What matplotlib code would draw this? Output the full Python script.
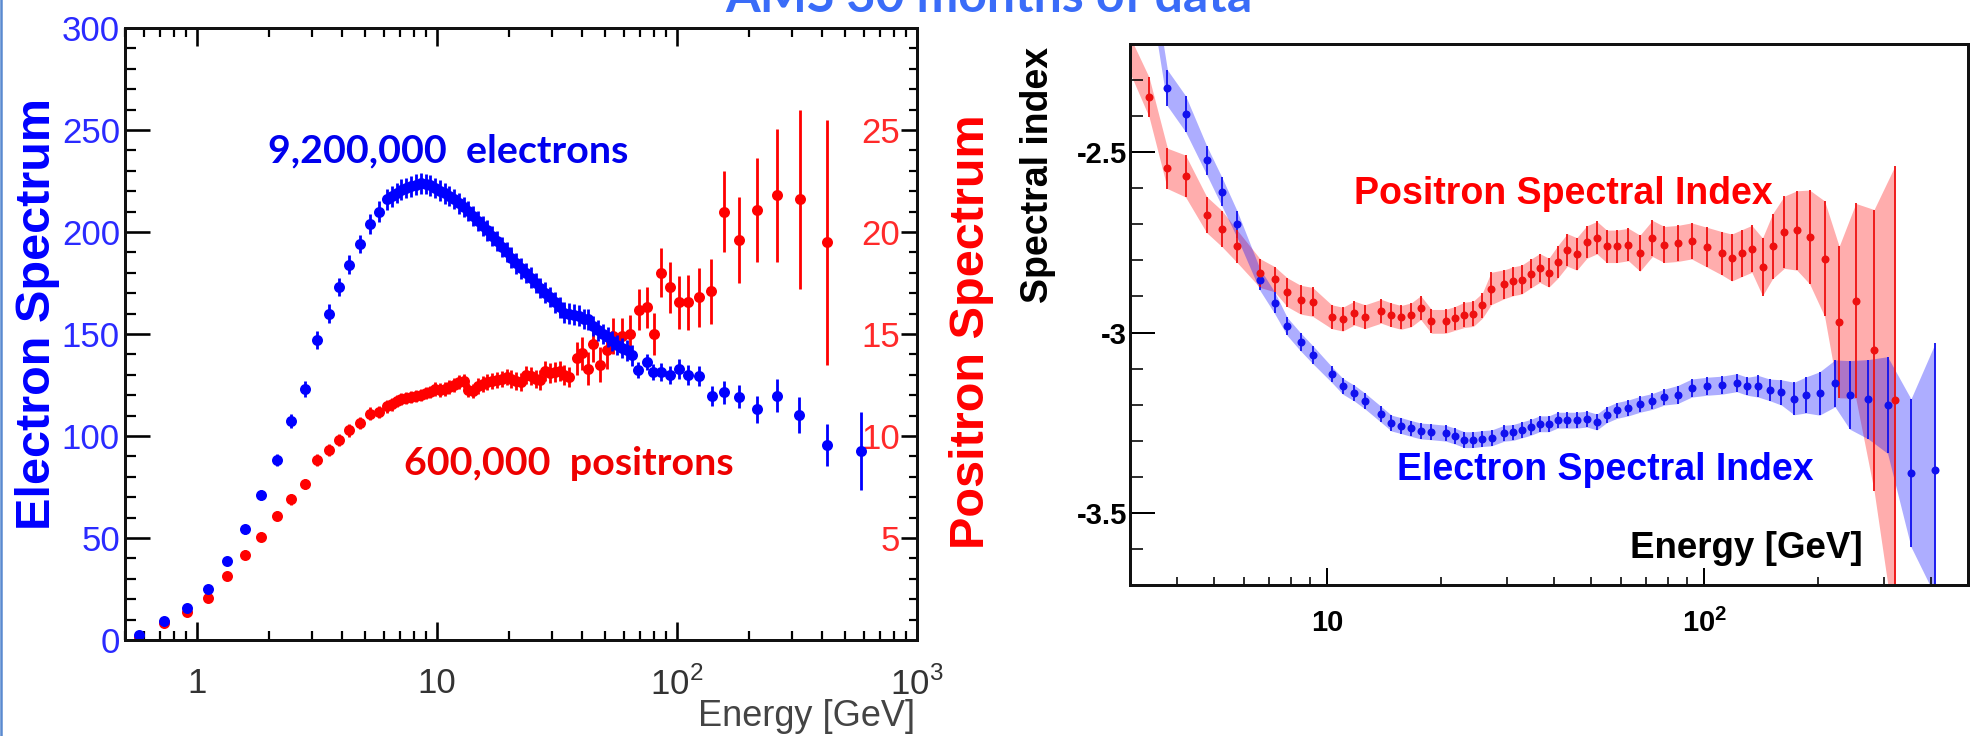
import numpy as np
import matplotlib
matplotlib.use("Agg")
import matplotlib.pyplot as plt
from matplotlib.lines import Line2D
from matplotlib.ticker import FixedLocator, MultipleLocator, NullFormatter

plt.rcParams['mathtext.fontset'] = 'custom'
plt.rcParams['mathtext.rm'] = 'Liberation Sans'
plt.rcParams['mathtext.bf'] = 'Liberation Sans:bold'
plt.rcParams['font.family'] = ['Liberation Sans', 'DejaVu Sans']

# ---------------- data: left panel (spectra) ----------------
ele_E = [0.573, 0.726, 0.908, 1.104, 1.33, 1.58, 1.85, 2.16, 2.46, 2.82, 3.17, 3.53,
         3.89, 4.30, 4.76, 5.24, 5.73, 6.2,
         6.5, 6.8, 7.1, 7.45, 7.8, 8.15, 8.55, 8.95, 9.35, 9.8, 10.25, 10.75, 11.25,
         11.8, 12.35, 12.9, 13.5, 14.15, 14.8, 15.5, 16.2, 17.0, 17.8, 18.6, 19.5,
         20.4, 21.4, 22.4, 23.4, 24.5, 25.7, 26.9, 28.2, 29.5, 30.9, 32.4, 33.9, 35.5,
         37.2, 39.0, 40.8, 42.7, 44.7, 46.8, 49.0, 51.3, 53.8, 56.3, 59.0, 61.8, 64.7,
         69.0, 74.8, 79.7, 86.0, 93.6, 101.8, 111.4, 123.6, 139.3, 157, 181, 215, 260,
         322, 422, 585]
ele_val = [2.5, 9.5, 15.6, 24.9, 38.9, 54.2, 71, 88.3, 107.2, 123, 147, 160,
           173, 184, 194, 204, 210, 216,
           217.5, 219, 220.8, 221.5, 222.4, 223.2, 223.8, 223.5, 222.8, 221.6, 220.3,
           218.9, 217.7, 216.2, 214, 212.2, 210.2, 207.8, 205.3, 203, 200.8, 198, 195.5,
           192.6, 190.2, 187.5, 184.6, 182.2, 180, 177.6, 175, 172.6, 170.3, 168, 165.5,
           163, 160.5, 160, 159.5, 159, 157.5, 157.2, 154, 151.8, 150, 148.5, 146.5,
           144.5, 143, 142, 139.5,
           132.4, 136.4, 131.5, 131.5, 129.9, 132.7, 129.9, 129.4, 119.6, 121.4, 119.3,
           113.1, 119.8, 110.3, 95.6, 92.6]
ele_err = [1, 1, 1, 1, 1.5, 2, 2.5, 3, 3.5, 4, 4.5, 4.5, 4.5, 4.5, 4.5, 5, 5, 5,
           5, 5, 5, 5, 5, 5, 5, 5, 5, 5, 5, 5, 5, 5, 5, 5, 5, 5, 5, 5, 5, 5, 5, 5, 5,
           5, 5, 5, 5, 5, 5, 5, 5, 5, 5, 5, 5, 5, 5, 5, 5, 5, 5, 5, 5, 5, 5, 5, 5, 5, 5,
           4, 4, 4, 4.5, 4.5, 5, 5, 5, 5, 5.5, 5.5, 6.5, 8, 9, 10.5, 19]

pos_E = [0.573, 0.726, 0.908, 1.104, 1.33, 1.58, 1.85, 2.16, 2.46, 2.82, 3.17, 3.53,
         3.89, 4.30, 4.76, 5.24, 5.73,
         6.2, 6.5, 6.8, 7.1, 7.45, 7.8, 8.15, 8.55, 8.95, 9.35, 9.8, 10.25, 10.75,
         11.25, 11.8, 12.35, 12.9, 13.5, 14.15, 14.8, 15.5, 16.2, 17.0, 17.8, 18.6,
         19.5, 20.4, 21.4, 22.4, 23.4, 24.5, 25.7, 26.9, 28.2, 29.5, 30.9, 32.4, 33.9,
         35.5,
         38.1, 40.0, 42.7, 44.8, 47.7, 51.0, 54.3, 58.8, 63.6, 69.1, 74.7, 80.2, 86.1,
         93.5, 101.8, 111.5, 123.7, 139, 157, 181, 215, 260, 324, 422]
pos_val = [0.15, 0.84, 1.39, 2.06, 3.13, 4.19, 5.07, 6.1, 6.89, 7.65, 8.82, 9.32,
           9.8, 10.27, 10.64, 11.1, 11.18,
           11.45, 11.55, 11.7, 11.8, 11.85, 11.9, 11.95, 12.0, 12.1, 12.15, 12.3, 12.25,
           12.3, 12.4, 12.5, 12.65, 12.7, 12.25, 12.2, 12.45, 12.55, 12.65, 12.7, 12.75,
           12.8, 12.9, 12.8, 12.7, 12.65, 13.0, 12.95, 12.8, 12.75, 13.2, 13.1, 13.15,
           13.2, 13.0, 12.9,
           13.8, 14.05, 13.3, 14.5, 13.5, 14.2, 14.9, 14.9, 15.0, 16.2, 16.3, 15.0, 18.0,
           17.3, 16.55, 16.55, 16.8, 17.1, 21.0, 19.6, 21.1, 21.8, 21.6, 19.5]
pos_err = [0.1, 0.1, 0.1, 0.15, 0.15, 0.2, 0.2, 0.2, 0.25, 0.25, 0.3, 0.3, 0.3, 0.3,
           0.3, 0.3, 0.3,
           0.3, 0.3, 0.3, 0.3, 0.3, 0.3, 0.3, 0.3, 0.3, 0.3, 0.35, 0.35, 0.35, 0.35,
           0.35, 0.35, 0.35, 0.35, 0.35, 0.4, 0.4, 0.4, 0.4, 0.4, 0.4, 0.4, 0.45, 0.45,
           0.45, 0.45, 0.45, 0.45, 0.5, 0.5, 0.5, 0.5, 0.5, 0.5, 0.5,
           0.8, 0.8, 0.8, 0.85, 0.85, 0.9, 0.9, 0.9, 0.95, 1.0, 1.0, 1.05, 1.2, 1.25, 1.3,
           1.35, 1.45, 1.6, 2.0, 2.1, 2.55, 3.25, 4.4, 6.0]

# ---------------- data: right panel (spectral indices) ----------------
psi_E = [3.37, 3.77, 4.21, 4.79, 5.26, 5.77, 6.63, 7.25, 7.83, 8.50, 9.15, 10.27, 11.0,
         11.8, 12.6, 13.9, 14.8, 15.7, 16.7, 17.7, 18.9, 20.6, 21.8, 23.1, 24.4, 25.8,
         27.2, 29.5, 31.1, 32.8, 34.6, 36.6, 38.7, 40.8, 43.3, 45.9, 48.8, 51.9, 55.1,
         58.6, 62.9, 67.5, 72.8, 78.3, 84.9, 92.5, 101.4, 111.1, 118.2, 125.6, 133.6,
         142.6, 151.6, 162.8, 175.9, 190.1, 208.3, 227.7, 252, 281.8, 320.5]
psi_val = [-2.347, -2.545, -2.566, -2.673, -2.712, -2.761, -2.835, -2.852, -2.888,
           -2.909, -2.915, -2.956, -2.963, -2.946, -2.956, -2.941, -2.951, -2.958,
           -2.951, -2.931, -2.969, -2.969, -2.961, -2.951, -2.948, -2.925, -2.878,
           -2.866, -2.858, -2.853, -2.837, -2.821, -2.834, -2.805, -2.771, -2.782,
           -2.749, -2.737, -2.761, -2.761, -2.756, -2.780, -2.739, -2.756, -2.753,
           -2.746, -2.763, -2.780, -2.792, -2.780, -2.768, -2.818, -2.761, -2.722,
           -2.717, -2.735, -2.795, -2.971, -2.912, -3.049, -3.187]
psi_err = [0.055, 0.056, 0.058, 0.05, 0.05, 0.045, 0.04, 0.035, 0.04, 0.04, 0.04, 0.033,
           0.033, 0.033, 0.033, 0.033, 0.033, 0.033, 0.033, 0.033, 0.033, 0.033, 0.033,
           0.035, 0.035, 0.035, 0.045, 0.04, 0.04, 0.04, 0.04, 0.04, 0.04, 0.045, 0.045,
           0.045, 0.045, 0.045, 0.045, 0.045, 0.045, 0.05, 0.05, 0.05, 0.05, 0.05,
           0.055, 0.06, 0.065, 0.065, 0.065, 0.08, 0.09, 0.1, 0.11, 0.13, 0.16, 0.21,
           0.27, 0.39, 0.65]
psi_band_start = (3.0, -2.23, 0.05)

esi_E = [3.77, 4.21, 4.79, 5.26, 5.77, 6.63, 7.25, 7.83, 8.50, 9.15, 10.27, 11.0, 11.8,
         12.6, 13.9, 14.8, 15.7, 16.7, 17.7, 18.8, 20.6, 21.8, 23.1, 24.4, 25.8, 27.3,
         29.5, 31.1, 32.8, 34.6, 36.6, 38.7, 40.8, 43.3, 45.9, 48.8, 51.9, 55.1, 58.6,
         62.9, 67.5, 72.8, 78.3, 84.9, 92.5, 101.4, 111.1, 121.8, 130, 139, 149, 160,
         173, 186, 202, 222, 243, 272, 306, 353, 409]
esi_val = [-2.322, -2.393, -2.522, -2.610, -2.700, -2.853, -2.917, -2.983, -3.026,
           -3.061, -3.116, -3.149, -3.168, -3.190, -3.227, -3.251, -3.258, -3.266,
           -3.273, -3.275, -3.279, -3.287, -3.297, -3.297, -3.294, -3.292, -3.279,
           -3.277, -3.270, -3.263, -3.253, -3.253, -3.243, -3.243, -3.243, -3.240,
           -3.248, -3.228, -3.216, -3.209, -3.199, -3.191, -3.179, -3.172, -3.154,
           -3.149, -3.146, -3.139, -3.149, -3.149, -3.159, -3.166, -3.183, -3.173,
           -3.169, -3.141, -3.173, -3.185, -3.201, -3.389, -3.380]
esi_err = [0.05, 0.05, 0.04, 0.04, 0.037, 0.03, 0.03, 0.025, 0.025, 0.025, 0.022, 0.022,
           0.022, 0.022, 0.022, 0.022, 0.022, 0.022, 0.022, 0.022, 0.022, 0.022, 0.022,
           0.022, 0.022, 0.022, 0.022, 0.022, 0.022, 0.022, 0.022, 0.022, 0.022, 0.022,
           0.022, 0.022, 0.022, 0.022, 0.022, 0.022, 0.022, 0.022, 0.022, 0.025, 0.025,
           0.025, 0.025, 0.025, 0.025, 0.03, 0.03, 0.035, 0.045, 0.05, 0.06, 0.065,
           0.095, 0.11, 0.134, 0.205, 0.35]
esi_band_start = (3.55, -2.15, 0.05)

# ---------------- figure ----------------
W, H, DPI = 1973, 736, 100


def pt(p):
    return p * 72.0 / DPI


def fx(x):
    return x / W


def fy(y):
    return 1 - y / H


BLUE = '#0000ff'
RED = '#ff0000'

fig = plt.figure(figsize=(W / DPI, H / DPI), dpi=DPI)
fig.patch.set_facecolor('white')

# ===== left panel =====
axL = fig.add_axes([fx(125), fy(640), (917 - 125) / W, (640 - 28) / H])
axL.set_xscale('log')
axP = axL.twinx()
axL.set_zorder(axP.get_zorder() + 1)
axL.patch.set_visible(False)

axP.errorbar(pos_E, pos_val, yerr=pos_err, fmt='o', color=RED, ms=pt(11), mew=0,
             elinewidth=pt(2.8), capsize=0)
axL.errorbar(ele_E, ele_val, yerr=ele_err, fmt='o', color=BLUE, ms=pt(11), mew=0,
             elinewidth=pt(2.8), capsize=0)

axL.set_xlim(0.5, 1000)
axL.set_ylim(0, 300)
axP.set_ylim(0, 30)

axL.set_xticks([1, 10, 100, 1000])
axL.set_xticklabels(['1', '10', '$10^{2}$', '$10^{3}$'])
axL.xaxis.set_minor_locator(FixedLocator([0.5, 0.6, 0.7, 0.8, 0.9, 2, 3, 4, 5, 6, 7, 8, 9,
                                          20, 30, 40, 50, 60, 70, 80, 90,
                                          200, 300, 400, 500, 600, 700, 800, 900]))
axL.xaxis.set_minor_formatter(NullFormatter())
axL.set_yticks(np.arange(0, 301, 50))
axL.yaxis.set_minor_locator(MultipleLocator(10))

axL.tick_params(axis='y', which='major', direction='in', length=pt(25), width=pt(2.6),
                left=True, right=False, labelsize=25, labelcolor='#2a2aff', pad=pt(5))
axL.tick_params(axis='y', which='minor', direction='in', length=pt(11), width=pt(2.2),
                left=True, right=False)
axL.tick_params(axis='x', which='major', direction='in', length=pt(18), width=pt(2.6),
                top=True, bottom=True, labelsize=25, labelcolor='#333333', pad=pt(27))
axL.tick_params(axis='x', which='minor', direction='in', length=pt(9), width=pt(2.2),
                top=True, bottom=True)

axP.set_yticks(np.arange(0, 31, 5))
axP.set_yticklabels(['', '5', '10', '15', '20', '25', ''], ha='right')
axP.yaxis.set_minor_locator(MultipleLocator(1))
axP.tick_params(axis='y', which='major', direction='in', length=pt(16), width=pt(2.6),
                right=True, left=False, labelsize=25, labelcolor='#ff2a2a', pad=-pt(17))
axP.tick_params(axis='y', which='minor', direction='in', length=pt(8), width=pt(2.2),
                right=True, left=False)

for ax in (axL, axP):
    for s in ax.spines.values():
        s.set_linewidth(pt(3))
        s.set_color('#111111')

fig.text(fx(268), fy(162), '9,200,000  electrons', family=['Lato', 'DejaVu Sans'],
         fontweight='bold', fontsize=28.4, color='#0000ee', ha='left', va='baseline')
fig.text(fx(404), fy(475), '600,000  positrons', family=['Lato', 'DejaVu Sans'],
         fontweight='bold', fontsize=28.4, color='#ee0000', ha='left', va='baseline')
fig.text(fx(38), fy(314), 'Electron Spectrum', rotation=90, ha='center', va='center',
         fontsize=35, fontweight='bold', color=BLUE)
fig.text(fx(971), fy(332), 'Positron Spectrum', rotation=90, ha='center', va='center',
         fontsize=35, fontweight='bold', color=RED)
fig.text(fx(915), fy(726), 'Energy [GeV]', ha='right', va='baseline', fontsize=26,
         color='#444444')

# ===== right panel =====
axR = fig.add_axes([fx(1130), fy(585), (1968 - 1130) / W, (585 - 44) / H])
axR.set_xscale('log')

bE = [psi_band_start[0]] + psi_E
bV = np.array([psi_band_start[1]] + psi_val)
bErr = np.array([psi_band_start[2]] + psi_err)
axR.fill_between(bE, bV - bErr, bV + bErr, color=RED, alpha=0.32, lw=0)
bE = [esi_band_start[0]] + esi_E
bV = np.array([esi_band_start[1]] + esi_val)
bErr = np.array([esi_band_start[2]] + esi_err)
axR.fill_between(bE, bV - bErr, bV + bErr, color=BLUE, alpha=0.32, lw=0)

axR.errorbar(esi_E, esi_val, yerr=esi_err, fmt='o', color='#1010ee', ms=pt(8), mew=0,
             elinewidth=pt(1.8), capsize=pt(3), capthick=pt(1.8))
axR.errorbar(psi_E, psi_val, yerr=psi_err, fmt='o', color='#ee1010', ms=pt(8), mew=0,
             elinewidth=pt(1.8), capsize=pt(3), capthick=pt(1.8))

axR.set_xlim(3, 500)
axR.set_ylim(-3.7, -2.2)
axR.set_xticks([10, 100])
axR.set_xticklabels(['10', r'$\mathbf{10^{2}}$'], fontweight='bold')
axR.xaxis.set_minor_locator(FixedLocator([3, 4, 5, 6, 7, 8, 9, 20, 30, 40, 50, 60, 70, 80,
                                          90, 200, 300, 400, 500]))
axR.xaxis.set_minor_formatter(NullFormatter())
axR.set_yticks([-3.5, -3.0, -2.5])
axR.set_yticklabels(['-3.5', '-3', '-2.5'], fontweight='bold')
axR.yaxis.set_minor_locator(MultipleLocator(0.1))
axR.tick_params(axis='y', which='major', direction='in', length=pt(25), width=pt(2),
                left=True, right=False, labelsize=21, pad=pt(3))
axR.tick_params(axis='y', which='minor', direction='in', length=pt(13), width=pt(1.6),
                left=True, right=False)
axR.tick_params(axis='x', which='major', direction='in', length=pt(17), width=pt(2),
                bottom=True, top=False, labelsize=21, pad=pt(24))
axR.tick_params(axis='x', which='minor', direction='in', length=pt(8), width=pt(1.6),
                bottom=True, top=False)
for s in axR.spines.values():
    s.set_linewidth(pt(3))
    s.set_color('#111111')

fig.text(fx(1038), fy(174.5), 'Spectral index', rotation=90, ha='center', va='center',
         fontsize=27, fontweight='bold', color='black')
fig.text(fx(1354), fy(204), 'Positron Spectral Index', ha='left', va='baseline',
         fontsize=27, fontweight='bold', color=RED)
fig.text(fx(1397), fy(480), 'Electron Spectral Index', ha='left', va='baseline',
         fontsize=27, fontweight='bold', color=BLUE)
fig.text(fx(1863), fy(558), 'Energy [GeV]', ha='right', va='baseline',
         fontsize=26.5, fontweight='bold', color='black')

# ===== title and slide border =====
fig.text(fx(989), fy(12), 'AMS 30 months of data', ha='center', va='baseline',
         family=['Lato', 'DejaVu Sans'], fontweight='bold', fontsize=36, color='#3a6cf8')
fig.add_artist(Line2D([fx(1.2), fx(1.2)], [0, 1], transform=fig.transFigure,
                      color='#5a8ad0', lw=pt(2.5)))

fig.savefig('out.png', dpi=DPI, facecolor='white')
